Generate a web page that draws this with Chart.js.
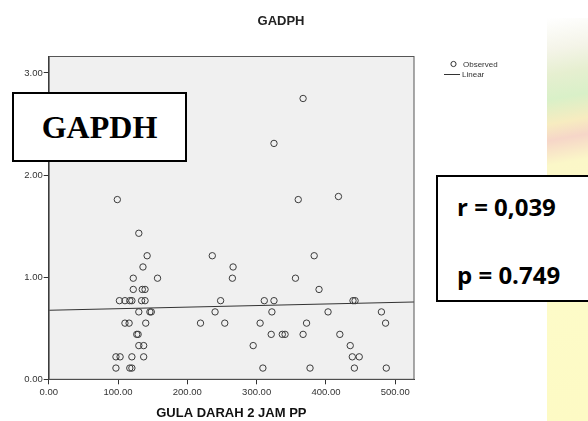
<!DOCTYPE html>
<html>
<head>
    <title>GADPH</title>
    <script src="https://cdn.jsdelivr.net/npm/chart.js"></script>
    <style>
        body { margin: 0; background: #fff; }
        #wrap { position: relative; width: 588px; height: 421px; overflow: hidden; }
        #watermark {
            position: absolute; left: 547px; top: 18px; width: 41px; height: 403px;
            background: linear-gradient(170deg, #ffffff 0%, #f4f4e8 8%, #e6efd0 14%, #d9f0c8 20%, #f7ecc0 26%, #f6d6c8 30%, #fbf7c8 36%, #fdfbc8 70%, #fdfac4 100%);
        }
        .box {
            position: absolute; background: #fff; border: 2px solid #000; box-sizing: border-box;
        }
        #gapdh {
            left: 12px; top: 92px; width: 175px; height: 70px;
            font: bold 32px "Liberation Serif", "Times New Roman", serif;
            text-align: center; line-height: 66px;
        }
        #stats {
            left: 436px; top: 175px; width: 160px; height: 127px;
            font: bold 24px "Open Sans", "Noto Sans", sans-serif;
        }
        #stats div { position: absolute; left: 19px; white-space: nowrap; }
    </style>
</head>
<body>
<div id="wrap">
    <div id="watermark"></div>
    <canvas id="scatterChart" width="588" height="421"></canvas>
    <div class="box" id="gapdh">GAPDH</div>
    <div class="box" id="stats">
        <div style="top: 12.5px;">r = 0,039</div>
        <div style="top: 81px;">p = 0.749</div>
    </div>
</div>

<script>
    // nilai gula darah 2 jam PP (sumbu x) dan GAPDH (sumbu y)
    const gulaDarah = [
        130, 142, 136, 122, 157, 122, 135, 139,
        102, 110, 117, 120, 134, 139,
        130, 146, 148,
        110, 116, 140,
        127, 129,
        130, 137,
        97, 103, 120, 137,
        97, 117, 120,
        99,
        219, 236, 266, 265, 248, 240, 254,
        295, 305, 309, 311, 325, 322, 321, 337, 341,
        325, 356, 360, 367,
        383, 390, 439, 442, 403, 480, 372, 486, 367, 420, 435, 438, 448, 377, 441, 487, 418
    ];
    const gapdh = [
        1.43, 1.21, 1.10, 0.99, 0.99, 0.88, 0.88, 0.88,
        0.77, 0.77, 0.77, 0.77, 0.77, 0.77,
        0.66, 0.66, 0.66,
        0.55, 0.55, 0.55,
        0.44, 0.44,
        0.33, 0.33,
        0.22, 0.22, 0.22, 0.22,
        0.11, 0.11, 0.11,
        1.76,
        0.55, 1.21, 1.10, 0.99, 0.77, 0.66, 0.55,
        0.33, 0.55, 0.11, 0.77, 0.77, 0.66, 0.44, 0.44, 0.44,
        2.31, 0.99, 1.76, 2.75,
        1.21, 0.88, 0.77, 0.77, 0.66, 0.66, 0.55, 0.55, 0.44, 0.44, 0.33, 0.22, 0.22, 0.11, 0.11, 0.11, 1.79
    ];
    // garis regresi linear
    const fitX = [0, 527];
    const fitY = [0.676, 0.757];

    const xTicks = [0, 100, 200, 300, 400, 500];
    const yTicks = [0, 1, 2, 3];

    const FONT = '"Liberation Sans", Arial, sans-serif';

    // latar plot abu-abu + bingkai + judul + legenda
    const spssPlugin = {
        id: 'spss',
        beforeDraw(chart) {
            const a = chart.chartArea;
            const ctx = chart.ctx;
            ctx.save();
            ctx.fillStyle = '#f0f0f0';
            ctx.fillRect(a.left, a.top, a.right - a.left, a.bottom - a.top);
            ctx.restore();
        },
        afterDraw(chart) {
            const a = chart.chartArea;
            const ctx = chart.ctx;
            ctx.save();
            ctx.strokeStyle = '#555';
            ctx.lineWidth = 1;
            ctx.strokeRect(a.left + 0.5, a.top + 0.5, a.right - a.left - 0.5, a.bottom - a.top - 0.5);

            // judul (di tengah seluruh gambar, seperti SPSS)
            ctx.fillStyle = '#222';
            ctx.font = 'bold 13px ' + FONT;
            ctx.textAlign = 'center';
            ctx.textBaseline = 'middle';
            ctx.fillText('GADPH', 281, 21);

            // legenda
            ctx.strokeStyle = '#333';
            ctx.beginPath();
            ctx.arc(453.5, 64, 2.6, 0, Math.PI * 2);
            ctx.stroke();
            ctx.beginPath();
            ctx.moveTo(444, 74.5);
            ctx.lineTo(460, 74.5);
            ctx.stroke();
            ctx.fillStyle = '#333';
            ctx.font = '8px ' + FONT;
            ctx.textAlign = 'left';
            ctx.fillText('Observed', 463, 64.5);
            ctx.fillText('Linear', 462, 75);
            ctx.restore();
        }
    };

    const ctx = document.getElementById('scatterChart').getContext('2d');
    new Chart(ctx, {
        type: 'scatter',
        data: {
            datasets: [
                {
                    label: 'Observed',
                    data: gulaDarah.map((x, i) => ({ x: x, y: gapdh[i] })),
                    pointStyle: 'circle',
                    pointRadius: 3.2,
                    pointBorderWidth: 1,
                    borderColor: '#3c3c3c',
                    backgroundColor: 'rgba(0,0,0,0)'
                },
                {
                    label: 'Linear',
                    type: 'line',
                    data: fitX.map((x, i) => ({ x: x, y: fitY[i] })),
                    borderColor: '#333',
                    borderWidth: 1,
                    pointRadius: 0,
                    fill: false
                }
            ]
        },
        options: {
            responsive: false,
            animation: false,
            layout: { padding: { left: 0, right: 174, top: 56, bottom: 0 } },
            plugins: {
                legend: { display: false },
                tooltip: { enabled: false },
                title: { display: false }
            },
            scales: {
                x: {
                    type: 'linear',
                    min: 0,
                    max: 527,
                    afterBuildTicks: s => { s.ticks = xTicks.map(v => ({ value: v })); },
                    afterFit: s => { s.height = 41.7; },
                    grid: { drawOnChartArea: false, drawTicks: true, tickLength: 5, color: '#333' },
                    border: { display: true, color: '#333' },
                    ticks: {
                        color: '#333',
                        padding: 2,
                        maxRotation: 0,
                        font: { family: FONT, size: 9.5 },
                        callback: v => v.toFixed(2)
                    },
                    title: {
                        display: true,
                        text: 'GULA DARAH 2 JAM PP',
                        color: '#111',
                        font: { family: FONT, size: 13, weight: 'bold' },
                        padding: { top: 0, bottom: 0 }
                    }
                },
                y: {
                    type: 'linear',
                    min: 0,
                    max: 3.166,
                    afterBuildTicks: s => { s.ticks = yTicks.map(v => ({ value: v })); },
                    afterFit: s => { s.width = 48.7; },
                    grid: { drawOnChartArea: false, drawTicks: true, tickLength: 5, color: '#333' },
                    border: { display: true, color: '#333' },
                    ticks: {
                        color: '#333',
                        padding: 1,
                        font: { family: FONT, size: 9.5 },
                        callback: v => v.toFixed(2)
                    }
                }
            }
        },
        plugins: [spssPlugin]
    });
</script>
</body>
</html>
